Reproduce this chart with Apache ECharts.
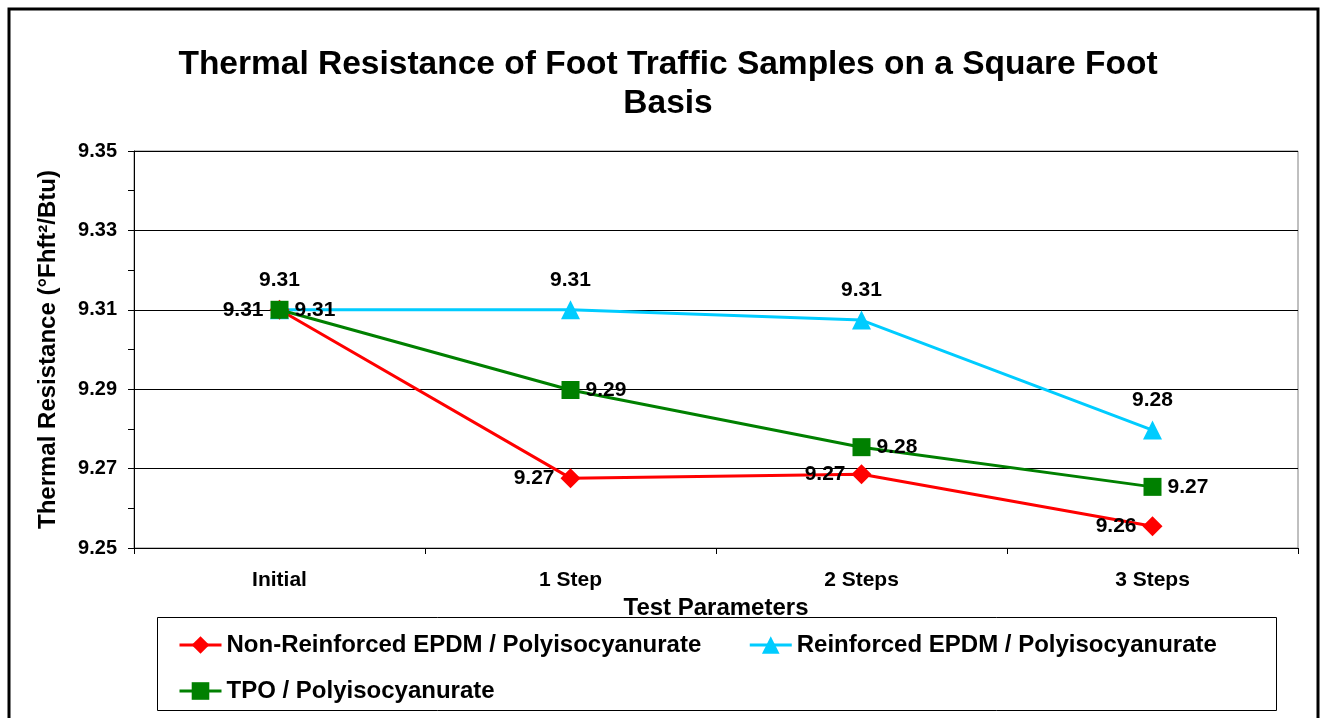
<!DOCTYPE html>
<html>
<head>
<meta charset="utf-8">
<script src="https://cdn.jsdelivr.net/npm/echarts@6/dist/echarts.min.js"></script>
<style>
  html, body { margin: 0; padding: 0; background: #fff; }
  #main { width: 1324px; height: 718px; }
</style>
</head>
<body>
<div id="main"></div>
<script>
const categories = ['Initial', '1 Step', '2 Steps', '3 Steps'];
const nonReinforced = [9.31, 9.2676, 9.2686, 9.2555];
const reinforced = [9.31, 9.31, 9.3074, 9.2797];
const tpo = [9.31, 9.2898, 9.2754, 9.2654];
const seriesNames = [
  'Non-Reinforced EPDM / Polyisocyanurate',
  'Reinforced EPDM / Polyisocyanurate',
  'TPO / Polyisocyanurate'
];

const font = 'Liberation Sans, Arial, sans-serif';
const chart = echarts.init(document.getElementById('main'), null, { renderer: 'canvas' });

const label = (position, distance) => ({
  show: true,
  position,
  distance,
  fontFamily: font,
  fontWeight: 'bold',
  fontSize: 21,
  color: '#000',
  formatter: (p) => p.value.toFixed(2)
});

const legendText = { fontFamily: font, fontWeight: 'bold', fontSize: 24, color: '#000' };

chart.setOption({
  animation: false,
  backgroundColor: '#fff',
  title: {
    text: 'Thermal Resistance of Foot Traffic Samples on a Square Foot\nBasis',
    left: 663,
    top: 40,
    textAlign: 'center',
    textStyle: { fontFamily: font, fontWeight: 'bold', fontSize: 33.5, lineHeight: 39, color: '#000' }
  },
  grid: { left: 134, right: 26, top: 151, bottom: 170, show: true, borderColor: '#808080', borderWidth: 1 },
  legend: [
    {
      data: [seriesNames[0], seriesNames[1]],
      left: 173, top: 628,
      itemWidth: 42, itemHeight: 22, itemGap: 47,
      lineStyle: { width: 3 },
      textStyle: legendText
    },
    {
      data: [seriesNames[2]],
      left: 173, top: 674,
      itemWidth: 42, itemHeight: 22,
      lineStyle: { width: 3 },
      textStyle: legendText
    }
  ],
  xAxis: {
    type: 'category',
    data: categories,
    boundaryGap: true,
    name: 'Test Parameters',
    nameLocation: 'middle',
    nameGap: 44,
    nameTextStyle: { fontFamily: font, fontWeight: 'bold', fontSize: 24, color: '#000' },
    axisLine: { lineStyle: { color: '#000', width: 1 } },
    axisTick: { show: true, length: 6, inside: false, lineStyle: { color: '#000' } },
    axisLabel: { margin: 22, fontFamily: font, fontWeight: 'bold', fontSize: 21, color: '#000' }
  },
  yAxis: {
    type: 'value',
    min: 9.25,
    max: 9.35,
    interval: 0.01,
    name: 'Thermal Resistance (°Fhft²/Btu)',
    nameLocation: 'middle',
    nameGap: 74,
    nameTextStyle: { fontFamily: font, fontWeight: 'bold', fontSize: 24, color: '#000' },
    axisLine: { show: true, lineStyle: { color: '#000', width: 1 } },
    axisTick: { show: true, length: 6, inside: false, lineStyle: { color: '#000' } },
    splitLine: { show: true, lineStyle: { color: ['#000', 'rgba(0,0,0,0)'], width: 1 } },
    axisLabel: {
      margin: 17,
      fontFamily: font, fontWeight: 'bold', fontSize: 20, color: '#000',
      formatter: (v) => (Math.round(v * 100) % 2 === 1 ? v.toFixed(2) : '')
    }
  },
  series: [
    {
      name: seriesNames[0],
      type: 'line',
      data: nonReinforced,
      color: '#ff0000',
      symbol: 'diamond',
      symbolSize: 20,
      lineStyle: { width: 3 },
      label: label('left', 6),
      z: 3
    },
    {
      name: seriesNames[1],
      type: 'line',
      data: reinforced,
      color: '#00ccff',
      symbol: 'triangle',
      symbolSize: 19,
      lineStyle: { width: 3 },
      label: label('top', 10),
      z: 2
    },
    {
      name: seriesNames[2],
      type: 'line',
      data: tpo,
      color: '#008000',
      symbol: 'rect',
      symbolSize: 18,
      lineStyle: { width: 3 },
      label: label('right', 6),
      z: 4
    }
  ],
  graphic: [
    {
      type: 'rect',
      shape: { x: 9, y: 9, width: 1309, height: 730 },
      style: { fill: 'none', stroke: '#000', lineWidth: 3 },
      silent: true
    },
    {
      type: 'rect',
      shape: { x: 157.5, y: 617.5, width: 1119, height: 93 },
      style: { fill: 'none', stroke: '#000', lineWidth: 1 },
      silent: true
    }
  ]
});
</script>
</body>
</html>
